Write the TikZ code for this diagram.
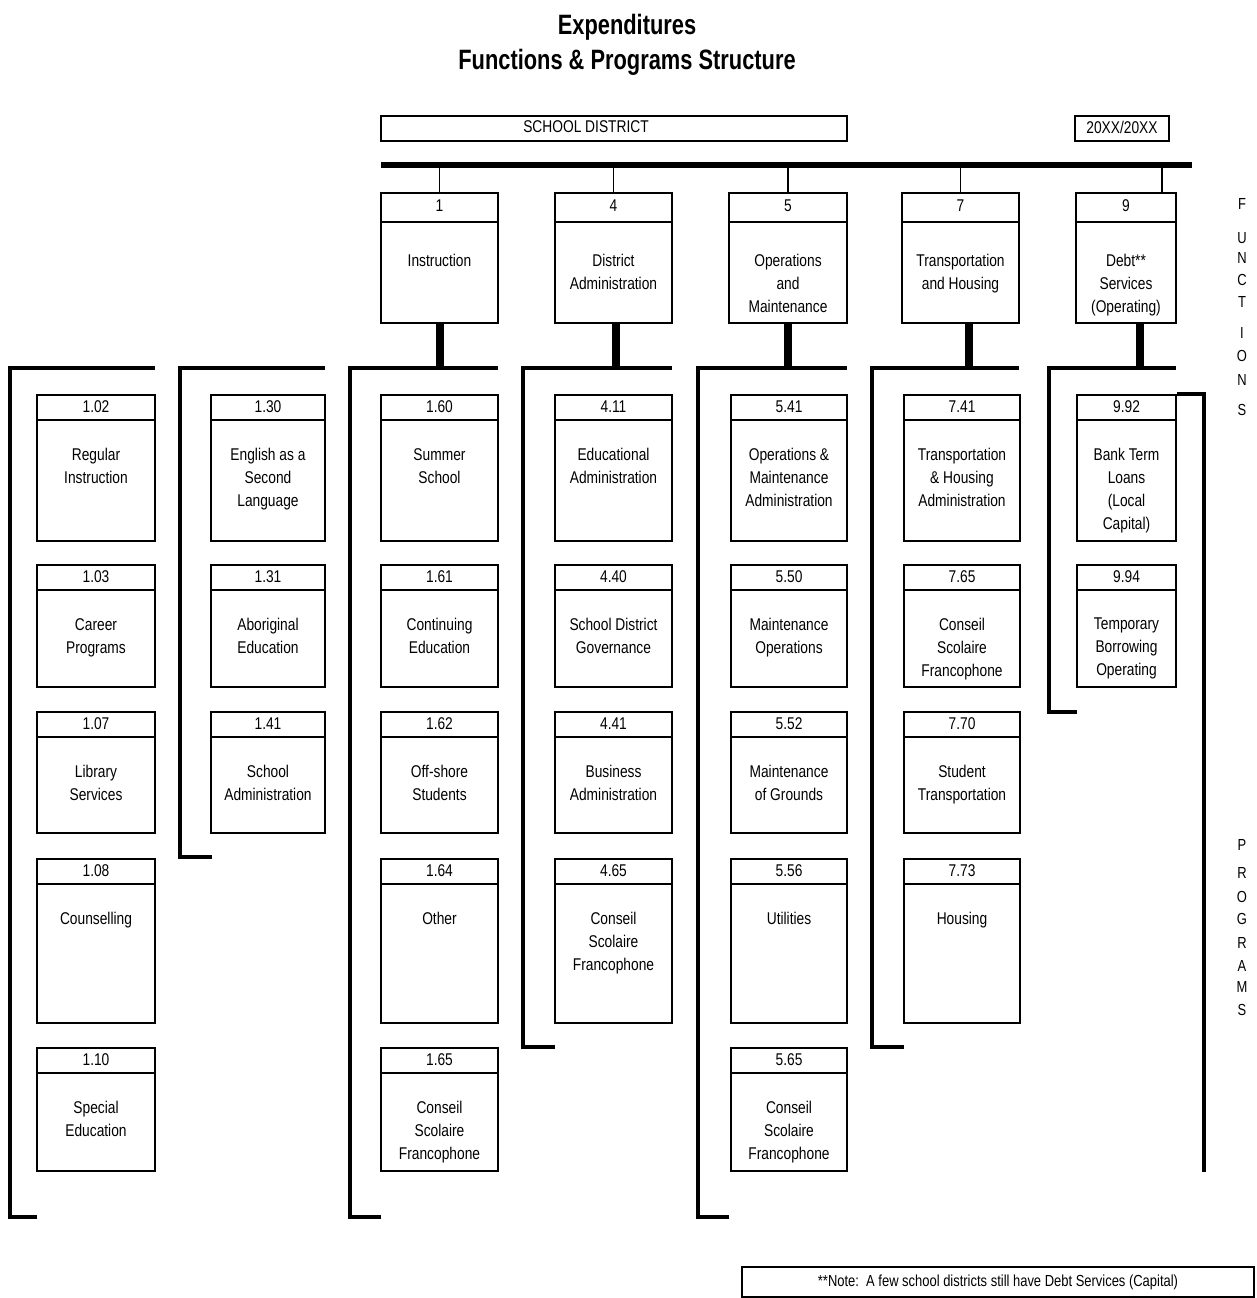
\documentclass[tikz,border=0pt]{standalone}
\usepackage{fontspec}
\setmainfont[FakeStretch=0.81]{Liberation Sans}
\newfontfamily\headfont[FakeStretch=0.78]{Liberation Sans}
\usetikzlibrary{positioning, calc}

\tikzstyle{title} = [font=\headfont\bfseries\fontsize{28}{30}\selectfont, inner sep=0pt]
\tikzstyle{pbox} = [rectangle, draw=black, line width=1.5pt, inner sep=0pt, anchor=north]
\tikzstyle{pline} = [line width=1.5pt]
\tikzstyle{code} = [font=\fontsize{17}{19}\selectfont, inner sep=0pt]
\tikzstyle{ptext} = [font=\fontsize{17}{23}\selectfont, align=center, anchor=north, inner sep=0pt]
\tikzstyle{bar} = [line width=4.5pt]
\tikzstyle{topbar} = [line width=5.5pt]
\tikzstyle{stub} = [line width=8pt]
\tikzstyle{link} = [line width=1.5pt]
\tikzstyle{side} = [font=\fontsize{16}{16}\selectfont, inner sep=0pt]
\tikzstyle{notebox} = [rectangle, draw=black, line width=1.5pt, minimum width=512pt, minimum height=30pt, font=\fontsize{16}{18}\selectfont]

% box with number on top: name, x centre, top, width, height, number, text
\newcommand{\progbox}[7]{%
  \node[pbox, minimum width=#4, minimum height=#5] (#1) at (#2,#3) {};
  \draw[pline] ([yshift=-26pt]#1.north west) -- ([yshift=-26pt]#1.north east);
  \node[code] (#1c) at ([yshift=-13pt]#1.north) {#6};
  \node[ptext] (#1t) at ([yshift=-54pt]#1.north) {#7};
}
\newcommand{\funcbox}[7]{%
  \node[pbox, minimum width=#4, minimum height=#5] (#1) at (#2,#3) {};
  \draw[pline] ([yshift=-30pt]#1.north west) -- ([yshift=-30pt]#1.north east);
  \node[code] (#1c) at ([yshift=-14pt]#1.north) {#6};
  \node[ptext] (#1t) at ([yshift=-62pt]#1.north) {#7};
}

\begin{document}
\begin{tikzpicture}[x=1pt, y=1pt]
        \useasboundingbox (0,0) rectangle (1256,-1298);

        \node (t1) [title] at (627,-27) {Expenditures};
        \node (t2) [title, below of = t1, node distance=35pt] {Functions \& Programs Structure};

        \node (sd) [pbox, minimum width=466pt, minimum height=25pt] at (614,-115) {};
        \node (sdt) [code] at (586,-127) {SCHOOL DISTRICT};
        \node (yr) [pbox, minimum width=94pt, minimum height=25pt] at (1122,-115) {};
        \node (yrt) [code] at (1122,-127) {20XX/20XX};

        \coordinate (topL) at (381,-165);
        \coordinate (topR) at (1192,-165);
        \draw[topbar] (topL) -- (topR);

        % functions
        \funcbox{f1}{439.5}{-192}{117}{130}{1}{Instruction}
        \funcbox{f4}{613.5}{-192}{117}{130}{4}{District\\Administration}
        \funcbox{f5}{788}{-192}{118}{130}{5}{Operations\\and\\Maintenance}
        \funcbox{f7}{960.5}{-192}{117}{130}{7}{Transportation\\and Housing}
        \funcbox{f9}{1126}{-192}{100}{130}{9}{Debt**\\Services\\(Operating)}

        \draw[link] (f1.north) -- (f1.north |- topL);
        \draw[link] (f4.north) -- (f4.north |- topL);
        \draw[link] (f5.north) -- (f5.north |- topL);
        \draw[link] (f7.north) -- (f7.north |- topL);
        \draw[link] ([xshift=36pt]f9.north) -- ([xshift=36pt]f9.north |- topL);

        % program brackets
        \coordinate (bA) at (10,-368);
        \coordinate (bB) at (180,-368);
        \coordinate (bC) at (350,-368);
        \coordinate (bD) at (523,-368);
        \coordinate (bE) at (698,-368);
        \coordinate (bF) at (872,-368);
        \coordinate (bG) at (1049,-368);
        \draw[bar] (155,-368) -- (bA) |- (37,-1217);
        \draw[bar] (325,-368) -- (bB) |- (212,-857);
        \draw[bar] (498,-368) -- (bC) |- (381,-1217);
        \draw[bar] (672,-368) -- (bD) |- (555,-1047);
        \draw[bar] (847,-368) -- (bE) |- (729,-1217);
        \draw[bar] (1019,-368) -- (bF) |- (904,-1047);
        \draw[bar] (1176,-368) -- (bG) |- (1077,-712);

        \draw[stub] (f1.south) -- (f1.south |- bC);
        \draw[stub] ([xshift=2pt]f4.south) -- ([xshift=2pt]f4.south |- bD);
        \draw[stub] (f5.south) -- (f5.south |- bE);
        \draw[stub] ([xshift=8pt]f7.south) -- ([xshift=8pt]f7.south |- bF);
        \draw[stub] ([xshift=14pt]f9.south) -- ([xshift=14pt]f9.south |- bG);

        % programs
        \progbox{p102}{96}{-394}{118}{146}{1.02}{Regular\\Instruction}
        \progbox{p103}{96}{-564}{118}{122}{1.03}{Career\\Programs}
        \progbox{p107}{96}{-711}{118}{121}{1.07}{Library\\Services}
        \progbox{p108}{96}{-858}{118}{164}{1.08}{Counselling}
        \progbox{p110}{96}{-1047}{118}{123}{1.10}{Special\\Education}

        \progbox{p130}{268}{-394}{114}{146}{1.30}{English as a\\Second\\Language}
        \progbox{p131}{268}{-564}{114}{122}{1.31}{Aboriginal\\Education}
        \progbox{p141}{268}{-711}{114}{121}{1.41}{School\\Administration}

        \progbox{p160}{439.5}{-394}{117}{146}{1.60}{Summer\\School}
        \progbox{p161}{439.5}{-564}{117}{122}{1.61}{Continuing\\Education}
        \progbox{p162}{439.5}{-711}{117}{121}{1.62}{Off-shore\\Students}
        \progbox{p164}{439.5}{-858}{117}{164}{1.64}{Other}
        \progbox{p165}{439.5}{-1047}{117}{123}{1.65}{Conseil\\Scolaire\\Francophone}

        \progbox{p411}{613.5}{-394}{117}{146}{4.11}{Educational\\Administration}
        \progbox{p440}{613.5}{-564}{117}{122}{4.40}{School District\\Governance}
        \progbox{p441}{613.5}{-711}{117}{121}{4.41}{Business\\Administration}
        \progbox{p465}{613.5}{-858}{117}{164}{4.65}{Conseil\\Scolaire\\Francophone}

        \progbox{p541}{789}{-394}{116}{146}{5.41}{Operations \&\\Maintenance\\Administration}
        \progbox{p550}{789}{-564}{116}{122}{5.50}{Maintenance\\Operations}
        \progbox{p552}{789}{-711}{116}{121}{5.52}{Maintenance\\of Grounds}
        \progbox{p556}{789}{-858}{116}{164}{5.56}{Utilities}
        \progbox{p565}{789}{-1047}{116}{123}{5.65}{Conseil\\Scolaire\\Francophone}

        \progbox{p741}{962}{-394}{116}{146}{7.41}{Transportation\\\& Housing\\Administration}
        \progbox{p765}{962}{-564}{116}{122}{7.65}{Conseil\\Scolaire\\Francophone}
        \progbox{p770}{962}{-711}{116}{121}{7.70}{Student\\Transportation}
        \progbox{p773}{962}{-858}{116}{164}{7.73}{Housing}

        \progbox{p992}{1126.5}{-394}{99}{146}{9.92}{Bank Term\\Loans\\(Local\\Capital)}
        \progbox{p994}{1126.5}{-564}{99}{122}{9.94}{Temporary\\Borrowing\\Operating}

        \draw[bar] (p992.north east) -- ++(27,0) coordinate (gR) -- (gR |- p110.south);

        % side labels
        \foreach \l/\y in {F/204, U/238, N/258, C/280, T/302, I/333, O/356, N/380, S/410}
            \node[side] (fn\y) at (1242,-\y) {\l};
        \foreach \l/\y in {P/845, R/873, O/897, G/919, R/943, A/966, M/987, S/1010}
            \node[side] (pg\y) at (1242,-\y) {\l};

        \node (note) [notebox] at (998,-1282) {**Note:\ \ A few school districts still have Debt Services (Capital)};
    \end{tikzpicture}
\end{document}
